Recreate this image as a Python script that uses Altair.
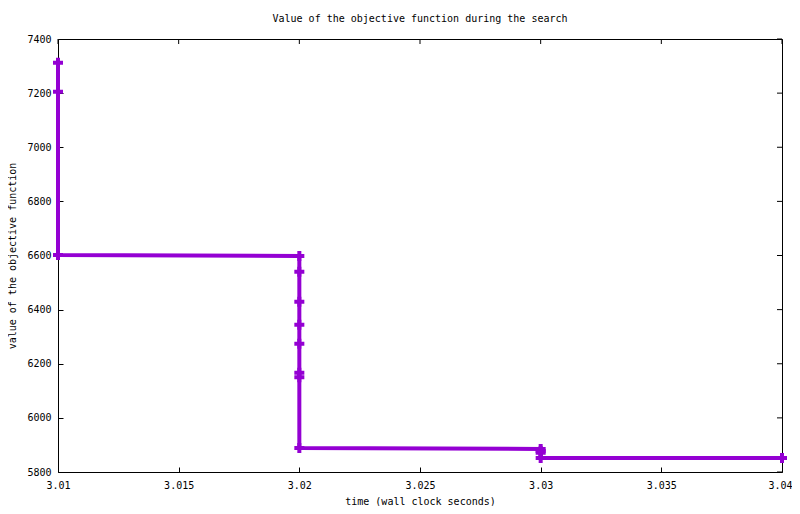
import altair as alt
import pandas as pd

# data
times = [3.01, 3.01, 3.01, 3.02, 3.02, 3.02, 3.02, 3.02, 3.02, 3.02, 3.02,
         3.03, 3.03, 3.03, 3.03, 3.04]
values = [7312, 7205, 6602, 6598, 6540, 6429, 6344, 6274, 6167, 6150, 5889,
          5885, 5878, 5871, 5852, 5852]
x_ticks = [3.01, 3.015, 3.02, 3.025, 3.03, 3.035, 3.04]
y_ticks = [5800, 6000, 6200, 6400, 6600, 6800, 7000, 7200, 7400]

W, H = 724, 433
FONT = "DejaVu Sans Mono"
COLOR = "#9400D3"
TICK = 5

df = pd.DataFrame({"t": times, "v": values, "i": list(range(len(times)))})
xt = pd.DataFrame({"t": x_ticks})
yt = pd.DataFrame({"v": y_ticks})


def X():
    return alt.X(
        "t:Q",
        scale=alt.Scale(domain=[3.01, 3.04], nice=False, zero=False),
        axis=alt.Axis(values=x_ticks, format="~g", title="time (wall clock seconds)",
                      offset=-TICK, tickSize=TICK, domain=False, grid=False,
                      labelPadding=8, titlePadding=6, labelFlush=False,
                      labelOverlap=False,
                      labelOffset={"condition": {"test": "datum.value > 3.0395", "value": -2},
                                   "value": 0}),
    )


def Y():
    return alt.Y(
        "v:Q",
        scale=alt.Scale(domain=[5800, 7400], nice=False, zero=False),
        axis=alt.Axis(values=y_ticks, format="d", title="value of the objective function",
                      offset=-TICK, tickSize=TICK, domain=False, grid=False,
                      labelPadding=7, titlePadding=9, labelFlush=False,
                      labelOverlap=False),
    )


line = alt.Chart(df).mark_line(color=COLOR, strokeWidth=4).encode(
    x=X(), y=Y(), order="i:Q"
)
points = alt.Chart(df).mark_point(
    shape="cross", filled=True, size=100, color=COLOR, opacity=1
).encode(x=X(), y=Y())

top_ticks = alt.Chart(xt).mark_rule(color="black", strokeWidth=1).encode(
    x=X(), y=alt.value(0), y2=alt.value(TICK)
)
right_ticks = alt.Chart(yt).mark_rule(color="black", strokeWidth=1).encode(
    y=Y(), x=alt.value(W - TICK), x2=alt.value(W)
)

chart = (
    alt.layer(top_ticks, right_ticks, line, points)
    .properties(
        width=W,
        height=H,
        padding={"left": 50, "top": 31, "right": 10, "bottom": 34},
        autosize=alt.AutoSizeParams(type="none"),
        title=alt.TitleParams(
            "Value of the objective function during the search",
            font=FONT, fontSize=10, fontWeight="normal", color="black",
            anchor="middle", offset=10,
        ),
    )
    .configure_view(stroke="black", strokeWidth=1)
    .configure_axis(
        labelFont=FONT, titleFont=FONT, labelFontSize=10, titleFontSize=10,
        titleFontWeight="normal", labelColor="black", titleColor="black",
        tickColor="black", tickWidth=1,
    )
)

chart.save("out.html", embed_options={"renderer": "svg", "actions": False})
